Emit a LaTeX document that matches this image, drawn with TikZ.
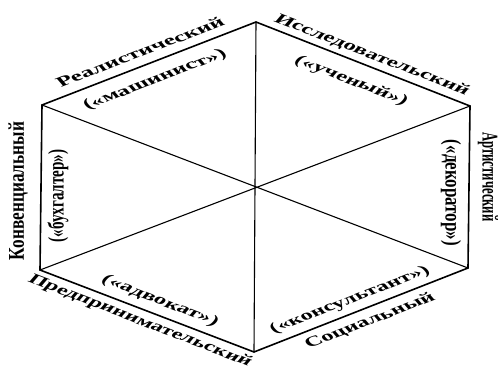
\documentclass[tikz,border=0pt]{standalone}
\usepackage{fontspec}
\usepackage{graphicx}
\setmainfont{Liberation Serif}
\begin{document}
\begin{tikzpicture}[x=1pt,y=-1pt,
  edge/.style={line width=1.6pt, line join=miter},
  diag/.style={line width=1.1pt},
  lbl/.style={inner sep=0pt, font=\bfseries\fontsize{14}{14}\selectfont},
  vlbl/.style={inner sep=0pt, font=\bfseries\fontsize{15}{15}\selectfont},
  slopeup/.style={lbl, xscale=1.5, rotate=30},
  slopedown/.style={lbl, xscale=1.5, rotate=-30},
  vertup/.style={vlbl, xscale=1.5, rotate=90},
  vertdown/.style={vlbl, xscale=1.5, rotate=-90}]
\useasboundingbox (0,0) rectangle (499,369);
\coordinate (top) at (256,22);
\coordinate (ur) at (470,106);
\coordinate (lr) at (468,268);
\coordinate (bot) at (254,352);
\coordinate (ll) at (40,270);
\coordinate (ul) at (42,105);
\draw[edge] (ul) -- (top) -- (ur) -- (lr) -- (bot) -- (ll) -- cycle;
\draw[diag] (top) -- (bot);
\draw[diag] (ul) -- (lr);
\draw[diag] (ll) -- (ur);
% labels
\node[slopeup] (real) at (140,52) {\resizebox{127pt}{\height}{Реалистический}};
\node[slopeup] (mash) at (155,80) {\resizebox{108pt}{\height}{(«машинист»)}};
\node[slopedown] (issl) at (372,55) {\resizebox{148pt}{\height}{Исследовательский}};
\node[slopedown] (uch) at (351,81) {\resizebox{85pt}{\height}{(«ученый»)}};
\node[vertdown] (art) at (488,177) {\resizebox{89pt}{\height}{Артистический}};
\node[vertdown] (dek) at (451,193) {\resizebox{106pt}{\height}{(«декоратор»)}};
\node[vertup] (konv) at (18,191) {\resizebox{138pt}{\height}{Конвенциальный}};
\node[vertup] (buh) at (58,196) {\resizebox{93pt}{\height}{(«бухгалтер»)}};
\node[slopedown] (pred) at (140,321) {\resizebox{170pt}{\height}{Предпринимательский}};
\node[slopedown] (adv) at (160,301) {\resizebox{88pt}{\height}{(«адвокат»)}};
\node[slopeup] (soc) at (370,321) {\resizebox{98pt}{\height}{Социальный}};
\node[slopeup] (kons) at (350,300) {\resizebox{121pt}{\height}{(«консультант»)}};
\end{tikzpicture}
\end{document}
